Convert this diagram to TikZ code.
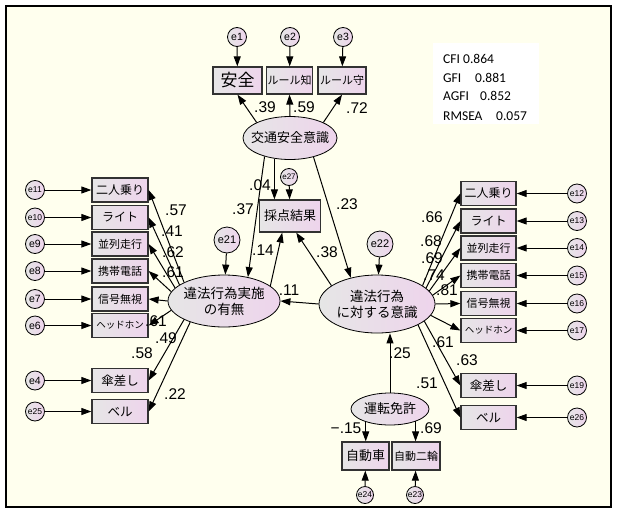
\documentclass[tikz,border=0pt]{standalone}
\usepackage{fontspec}
\setmainfont{Liberation Sans}
\newfontfamily\jpfont{Noto Sans CJK JP}
\newfontfamily\statfont{Carlito}
\usetikzlibrary{shapes.geometric,calc,arrows.meta}
\definecolor{cream}{RGB}{255,255,238}
\definecolor{fillL}{RGB}{230,230,230}
\definecolor{fillR}{RGB}{238,212,236}
\definecolor{boxline}{RGB}{50,50,50}
\newcommand{\jsz}[1]{\fontsize{#1}{#1}\selectfont}
\newcommand{\zw}[1]{\makebox[0pt]{#1}}

\begin{document}
\begin{tikzpicture}[x=1pt,y=-1pt,>=Latex,
  obs/.style={draw=boxline, line width=1.3pt, left color=fillL, right color=fillR,
    minimum height=24pt, inner sep=1pt, font=\jpfont\jsz{12}},
  lat/.style={ellipse, draw, line width=0.8pt, left color=fillL, right color=fillR,
    inner sep=0pt, align=center, font=\jpfont\fontsize{13.5}{16}\selectfont},
  err/.style={circle, draw, line width=0.8pt, left color=fillL, right color=fillR,
    inner sep=0pt, minimum size=19pt, font=\jsz{10.5}},
  errs/.style={err, font=\jsz{8.5}},
  arr/.style={-{Triangle[length=10pt,width=7pt]}, line width=1pt},
  coef/.style={inner sep=0pt, font=\jsz{15.5}},
  fitline/.style={anchor=base west, inner sep=0pt, font=\statfont\jsz{13.5}}]

% frame
\useasboundingbox (0,0) rectangle (617,514);
\fill[white] (0,0) rectangle (617,514);
\draw[line width=2pt, fill=cream] (6,6) rectangle (611,507);

% fit indices
\fill[white] (433,43) rectangle (539,124);
\node[fitline] (cfi) at (443,63) {\makebox[20pt][l]{CFI}0.864};
\node[fitline] (gfi) at (443,82) {\makebox[32pt][l]{GFI}0.881};
\node[fitline] (agfi) at (443,100.5) {\makebox[37pt][l]{AGFI}0.852};
\node[fitline] (rmsea) at (443,120) {\makebox[53pt][l]{RMSEA}0.057};

% top factor
\node[err] (e1) at (237,37) {e1};
\node[err] (e2) at (290,37) {e2};
\node[err] (e3) at (343,37) {e3};
\node[obs, minimum width=49pt, minimum height=27pt, font=\jpfont\jsz{17}] (anzen) at (237.5,80.5) {安全};
\node[obs, minimum width=46pt, minimum height=27pt, font=\jpfont\jsz{11}] (rchi) at (289.5,80.5) {ルール知};
\node[obs, minimum width=48pt, minimum height=27pt, font=\jpfont\jsz{11}] (rmamo) at (342,80.5) {ルール守};
\node[lat, minimum width=94pt, minimum height=43pt, font=\jpfont\jsz{13}] (kotsu) at (290,138) {\zw{交通安全意識}};

% score
\node[err, minimum size=17pt, font=\jsz{8}] (e27) at (289,177) {e27};
\node[obs, minimum width=61pt, minimum height=32pt, font=\jpfont\jsz{13}] (saiten) at (290,216) {採点結果};

% middle factors
\node[err, minimum size=26pt, font=\jsz{11}] (e21) at (227,240) {e21};
\node[err, minimum size=26pt, font=\jsz{11}] (e22) at (380,244) {e22};
\node[lat, minimum width=112pt, minimum height=52pt] (jisshi) at (224,301) {\zw{違法行為実施}\\\zw{の有無}};
\node[lat, minimum width=116pt, minimum height=58pt] (ishiki) at (377,304) {\zw{違法行為}\\\zw{に対する意識}};

% left indicators
\node[obs, minimum width=56pt] (l1) at (120,190) {二人乗り};
\node[obs, minimum width=56pt] (l2) at (120,217.5) {ライト};
\node[obs, minimum width=56pt, font=\jpfont\jsz{11}] (l3) at (120,244) {並列走行};
\node[obs, minimum width=56pt, font=\jpfont\jsz{11}] (l4) at (120,271) {携帯電話};
\node[obs, minimum width=56pt, font=\jpfont\jsz{11}] (l5) at (120,299) {信号無視};
\node[obs, minimum width=56pt, font=\jpfont\jsz{9.5}] (l6) at (120,325.5) {ヘッドホン};
\node[obs, minimum width=56pt, font=\jpfont\jsz{12.5}] (l7) at (120,380.5) {傘差し};
\node[obs, minimum width=56pt, font=\jpfont\jsz{12.5}] (l8) at (120,411.5) {ベル};
\node[errs] (e11) at (35,190) {e11};
\node[errs] (e10) at (35,217.5) {e10};
\node[err] (e9) at (35,244) {e9};
\node[err] (e8) at (35,271) {e8};
\node[err] (e7) at (35,299) {e7};
\node[err] (e6) at (35,325.5) {e6};
\node[err] (e4) at (35,380.5) {e4};
\node[errs] (e25) at (35,411.5) {e25};

% right indicators
\node[obs, minimum width=55pt] (r1) at (488.5,193.5) {二人乗り};
\node[obs, minimum width=55pt] (r2) at (488.5,221) {ライト};
\node[obs, minimum width=55pt, font=\jpfont\jsz{11}] (r3) at (488.5,248) {並列走行};
\node[obs, minimum width=55pt, font=\jpfont\jsz{11}] (r4) at (488.5,275.5) {携帯電話};
\node[obs, minimum width=55pt, font=\jpfont\jsz{11}] (r5) at (488.5,303.5) {信号無視};
\node[obs, minimum width=55pt, font=\jpfont\jsz{9.5}] (r6) at (488.5,330.5) {ヘッドホン};
\node[obs, minimum width=55pt, font=\jpfont\jsz{12.5}] (r7) at (488.5,385.5) {傘差し};
\node[obs, minimum width=55pt, font=\jpfont\jsz{12.5}] (r8) at (488.5,417.5) {ベル};
\node[errs] (e12) at (577,193.5) {e12};
\node[errs] (e13) at (577,221) {e13};
\node[errs] (e14) at (577,248) {e14};
\node[errs] (e15) at (577,275.5) {e15};
\node[errs] (e16) at (577,303.5) {e16};
\node[errs] (e17) at (577,330.5) {e17};
\node[errs] (e19) at (577,385.5) {e19};
\node[errs] (e26) at (577,417.5) {e26};

% licence factor
\node[lat, minimum width=78pt, minimum height=32pt, font=\jpfont\jsz{13}] (menkyo) at (390,409) {\zw{運転免許}};
\node[obs, minimum width=47pt, minimum height=28pt, font=\jpfont\jsz{13}] (car) at (365.5,456) {自動車};
\node[obs, minimum width=48pt, minimum height=28pt, font=\jpfont\jsz{11}] (moto) at (416,456) {自動二輪};
\node[err, minimum size=17pt, font=\jsz{8.5}] (e24) at (365,495) {e24};
\node[err, minimum size=17pt, font=\jsz{8.5}] (e23) at (415,495) {e23};

% coefficients
\node[coef] (k39) at (265,107) {.39};
\node[coef] (k59) at (304,107) {.59};
\node[coef] (k72) at (357,108) {.72};
\node[coef] (k04) at (260,185) {.04};
\node[coef] (k37) at (243,209) {.37};
\node[coef] (k23) at (347,204) {.23};
\node[coef] (k14) at (263,250) {.14};
\node[coef] (k38) at (327,252) {.38};
\node[coef] (k11) at (289,290) {.11};
\node[coef] (kl1) at (176,210) {.57};
\node[coef] (kl2) at (172,231) {.41};
\node[coef] (kl3) at (173,252) {.62};
\node[coef] (kl4) at (173,272) {.61};
\node[coef] (kl6) at (156,321) {.61};
\node[coef] (kl7) at (166,338) {.49};
\node[coef] (kl8) at (142,353) {.58};
\node[coef] (kl9) at (175,394) {.22};
\node[coef] (kr1) at (432,217) {.66};
\node[coef] (kr2) at (431,241) {.68};
\node[coef] (kr3) at (432,258) {.69};
\node[coef] (kr4) at (434,275) {.74};
\node[coef] (kr5) at (447,290) {.81};
\node[coef] (kr6) at (443,342) {.61};
\node[coef] (kr7) at (467,360) {.63};
\node[coef] (kr8) at (427,383) {.51};
\node[coef] (k25) at (400,353) {.25};
\node[coef] (k15) at (346,428) {−.15};
\node[coef] (k69) at (431,428) {.69};

% paths
\draw[arr] (e1) -- (anzen);
\draw[arr] (e2) -- (rchi);
\draw[arr] (e3) -- (rmamo);
\draw[arr] (kotsu.155) -- (anzen.south);
\draw[arr] (kotsu.north) -- (rchi.south);
\draw[arr] (kotsu.25) -- (rmamo.south);
\draw[arr] (e27) -- (saiten);
\draw[arr] (kotsu.233) -- (kotsu.233 |- saiten.north);
\draw[arr] (kotsu.216) -- (jisshi.45);
\draw[arr] (kotsu.321) -- (ishiki.135);
\draw[arr] (jisshi.18) -- ($(saiten.south)!0.25!(saiten.south west)$);
\draw[arr] (ishiki.158) -- ($(saiten.south)!0.2!(saiten.south east)$);
\draw[arr] (ishiki.west) -- (jisshi.east);
\draw[arr] (e21) -- (jisshi);
\draw[arr] (e22) -- (ishiki);

\draw[arr] (jisshi.155) -- (l1.east);
\draw[arr] (jisshi.160) -- (l2.east);
\draw[arr] (jisshi.165) -- (l3.east);
\draw[arr] (jisshi.170) -- (l4.east);
\draw[arr] (jisshi.west) -- (l5.east);
\draw[arr] (jisshi.190) -- (l6.east);
\draw[arr] (jisshi.205) -- (l7.east);
\draw[arr] (jisshi.212) -- (l8.east);
\draw[arr] (e11) -- (l1);
\draw[arr] (e10) -- (l2);
\draw[arr] (e9) -- (l3);
\draw[arr] (e8) -- (l4);
\draw[arr] (e7) -- (l5);
\draw[arr] (e6) -- (l6);
\draw[arr] (e4) -- (l7);
\draw[arr] (e25) -- (l8);

\draw[arr] (ishiki.22) -- (r1.west);
\draw[arr] (ishiki.18) -- (r2.west);
\draw[arr] (ishiki.14) -- (r3.west);
\draw[arr] (ishiki.9) -- (r4.west);
\draw[arr] (ishiki.east) -- (r5.west);
\draw[arr] (ishiki.348) -- (r6.west);
\draw[arr] (ishiki.340) -- (r7.west);
\draw[arr] (ishiki.333) -- (r8.west);
\draw[arr] (e12) -- (r1);
\draw[arr] (e13) -- (r2);
\draw[arr] (e14) -- (r3);
\draw[arr] (e15) -- (r4);
\draw[arr] (e16) -- (r5);
\draw[arr] (e17) -- (r6);
\draw[arr] (e19) -- (r7);
\draw[arr] (e26) -- (r8);

\draw[arr] (menkyo.north) -- (menkyo.north |- ishiki.south);
\draw[arr] (menkyo.208) -- (menkyo.208 |- car.north);
\draw[arr] (menkyo.334) -- (menkyo.334 |- moto.north);
\draw[arr] (e24) -- (car);
\draw[arr] (e23) -- (moto);
\end{tikzpicture}
\end{document}
